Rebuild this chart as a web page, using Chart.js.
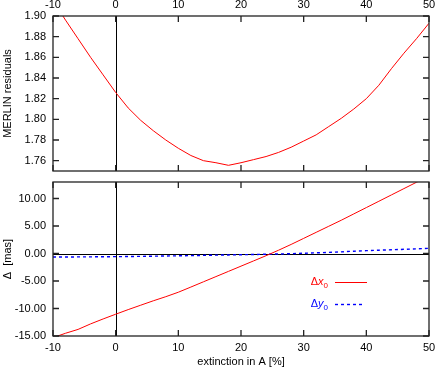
<!DOCTYPE html>
<html>
<head>
<meta charset="utf-8">
<script src="https://cdn.jsdelivr.net/npm/chart.js@4"></script>
<style>
  html, body { margin: 0; padding: 0; background: #fff; }
  #wrap { position: relative; width: 436px; height: 372px; }
  #topChart { position: absolute; left: 0; top: 0; }
  #bottomChart { position: absolute; left: 0; top: 177px; }
</style>
</head>
<body>
<div id="wrap">
  <canvas id="topChart" width="436" height="177"></canvas>
  <canvas id="bottomChart" width="436" height="195"></canvas>
</div>
<script>
// extinction in A [%]
const extinction = [-10, -8, -6, -4, -2, 0, 2, 4, 6, 8, 10, 12, 14, 16, 18, 20,
                    22, 24, 26, 28, 30, 32, 34, 36, 38, 40, 42, 44, 46, 48, 50];

// top panel: MERLIN residuals
const merlinResiduals = [1.915, 1.896, 1.878, 1.860, 1.843, 1.826, 1.811, 1.799, 1.789, 1.780,
                         1.772, 1.765, 1.760, 1.758, 1.7555, 1.758, 1.761, 1.764, 1.768, 1.773,
                         1.779, 1.785, 1.793, 1.801, 1.810, 1.820, 1.833, 1.849, 1.864, 1.878, 1.893];

// bottom panel: offsets in mas
const deltaX0 = [-15.3, -14.5, -13.8, -12.8, -11.9, -11.04, -10.2, -9.4, -8.6, -7.85,
                 -7.04, -6.1, -5.15, -4.2, -3.25, -2.3, -1.35, -0.4, 0.6, 1.65,
                 2.75, 3.85, 4.95, 6.05, 7.2, 8.35, 9.5, 10.65, 11.8, 12.95, 14.1];
const deltaY0 = [-0.65, -0.64, -0.62, -0.61, -0.59, -0.57, -0.55, -0.52, -0.49, -0.45,
                 -0.42, -0.38, -0.34, -0.30, -0.26, -0.22, -0.18, -0.14, -0.09, -0.04,
                 0.05, 0.12, 0.20, 0.30, 0.42, 0.52, 0.60, 0.68, 0.76, 0.85, 0.94];

const xTicks = [-10, 0, 10, 20, 30, 40, 50];
const residualTicks = [1.76, 1.78, 1.80, 1.82, 1.84, 1.86, 1.88, 1.90];
const deltaTicks = [-15, -10, -5, 0, 5, 10];

const FONT = "'Liberation Sans', Arial, Helvetica, sans-serif";
Chart.defaults.font.family = FONT;
Chart.defaults.font.size = 11;
Chart.defaults.color = '#000';

function points(ys) {
    return extinction.map((x, i) => ({ x: x, y: ys[i] }));
}

function fixedTicks(values) {
    return scale => { scale.ticks = values.map(v => ({ value: v })); };
}

// fixed axis size, and no extra room reserved for the end labels
function xSize(h) {
    return s => { s.height = h; s.paddingLeft = 0; s.paddingRight = 0; };
}
function ySize(w) {
    return s => { s.width = w; s.paddingTop = 0; s.paddingBottom = 0; };
}

// gnuplot-like frame with inward ticks on all four sides, plus zero lines
const framePlugin = {
    id: 'frame',
    beforeDatasetsDraw(chart, args, opts) {
        const { ctx, chartArea: a, scales: { x, y } } = chart;
        ctx.save();
        ctx.strokeStyle = '#000';
        ctx.lineWidth = 1;
        ctx.beginPath();
        const px = Math.round(x.getPixelForValue(0)) + 0.5;
        ctx.moveTo(px, a.top);
        ctx.lineTo(px, a.bottom);
        if (opts.zeroY) {
            const py = Math.round(y.getPixelForValue(0)) + 0.5;
            ctx.moveTo(a.left, py);
            ctx.lineTo(a.right, py);
        }
        ctx.stroke();
        ctx.restore();
    },
    afterDatasetsDraw(chart) {
        const { ctx, chartArea: a, scales: { x, y } } = chart;
        const len = 6;
        ctx.save();
        ctx.strokeStyle = '#222';
        ctx.lineWidth = 1.3;
        ctx.strokeRect(a.left, a.top, a.right - a.left, a.bottom - a.top);
        ctx.beginPath();
        x.ticks.forEach(t => {
            const px = x.getPixelForValue(t.value);
            ctx.moveTo(px, a.top);
            ctx.lineTo(px, a.top + len);
            ctx.moveTo(px, a.bottom);
            ctx.lineTo(px, a.bottom - len);
        });
        y.ticks.forEach(t => {
            const py = y.getPixelForValue(t.value);
            ctx.moveTo(a.left, py);
            ctx.lineTo(a.left + len, py);
            ctx.moveTo(a.right, py);
            ctx.lineTo(a.right - len, py);
        });
        ctx.stroke();
        ctx.restore();
    }
};

// key entries: "Δx0" / "Δy0" with italic variable and subscript
function drawKeyEntry(ctx, letter, color, dash, textRight, yMid, x1, x2) {
    ctx.save();
    ctx.fillStyle = color;
    ctx.textBaseline = 'middle';
    const big = '11px ' + FONT, ital = 'italic 11px ' + FONT, small = '8px ' + FONT;
    ctx.font = big; const wD = ctx.measureText('\u0394').width;
    ctx.font = ital; const wL = ctx.measureText(letter).width;
    ctx.font = small; const wS = ctx.measureText('0').width;
    let xx = textRight - (wD + wL + wS);
    ctx.font = big; ctx.fillText('\u0394', xx, yMid); xx += wD;
    ctx.font = ital; ctx.fillText(letter, xx, yMid); xx += wL;
    ctx.font = small; ctx.fillText('0', xx, yMid + 4);
    ctx.strokeStyle = color;
    ctx.lineWidth = dash ? 1.4 : 1;
    ctx.setLineDash(dash || []);
    ctx.beginPath();
    ctx.moveTo(x1, Math.round(yMid) + 0.5);
    ctx.lineTo(x2, Math.round(yMid) + 0.5);
    ctx.stroke();
    ctx.restore();
}

const keyPlugin = {
    id: 'key',
    afterDraw(chart) {
        const ctx = chart.ctx;
        drawKeyEntry(ctx, 'x', '#ff0000', null, 328, 104.5, 335, 367);
        drawKeyEntry(ctx, 'y', '#0000ff', [3, 3], 328, 127, 335, 365);
    }
};

const topChart = new Chart(document.getElementById('topChart'), {
    type: 'line',
    data: {
        datasets: [{
            data: points(merlinResiduals),
            borderColor: '#ff0000',
            borderWidth: 1,
            pointRadius: 0,
            tension: 0
        }]
    },
    options: {
        responsive: false,
        animation: false,
        layout: { padding: { left: 0, right: 7, top: 0, bottom: 6 } },
        plugins: { legend: { display: false }, tooltip: { enabled: false }, frame: {} },
        scales: {
            x: {
                type: 'linear',
                position: 'top',
                min: -10, max: 50,
                afterBuildTicks: fixedTicks(xTicks),
                afterFit: xSize(16),
                grid: { display: false, drawTicks: false },
                border: { display: false },
                ticks: { padding: 4, maxRotation: 0 }
            },
            y: {
                type: 'linear',
                min: 1.75, max: 1.90,
                afterBuildTicks: fixedTicks(residualTicks),
                afterFit: ySize(53),
                grid: { display: false, drawTicks: false },
                border: { display: false },
                ticks: { padding: 7, callback: v => v.toFixed(2) },
                title: { display: true, text: 'MERLIN residuals', padding: { top: 1, bottom: 0 } }
            }
        }
    },
    plugins: [framePlugin]
});

const bottomChart = new Chart(document.getElementById('bottomChart'), {
    type: 'line',
    data: {
        datasets: [{
            data: points(deltaX0),
            borderColor: '#ff0000',
            borderWidth: 1,
            pointRadius: 0,
            tension: 0
        }, {
            data: points(deltaY0),
            borderColor: '#0000ff',
            borderWidth: 1.4,
            borderDash: [3, 3],
            pointRadius: 0,
            tension: 0
        }]
    },
    options: {
        responsive: false,
        animation: false,
        layout: { padding: { left: 0, right: 7, top: 5, bottom: 0 } },
        plugins: { legend: { display: false }, tooltip: { enabled: false }, frame: { zeroY: true } },
        scales: {
            x: {
                type: 'linear',
                min: -10, max: 50,
                afterBuildTicks: fixedTicks(xTicks),
                afterFit: xSize(36),
                grid: { display: false, drawTicks: false },
                border: { display: false },
                ticks: { padding: 5, maxRotation: 0 },
                title: { display: true, text: 'extinction in A [%]', padding: { top: 0, bottom: 3 } }
            },
            y: {
                type: 'linear',
                min: -15, max: 13,
                afterBuildTicks: fixedTicks(deltaTicks),
                afterFit: ySize(53),
                grid: { display: false, drawTicks: false },
                border: { display: false },
                ticks: { padding: 7, callback: v => v.toFixed(2) },
                title: { display: true, text: '\u0394  [mas]', padding: { top: 1, bottom: 0 } }
            }
        }
    },
    plugins: [framePlugin, keyPlugin]
});
</script>
</body>
</html>
